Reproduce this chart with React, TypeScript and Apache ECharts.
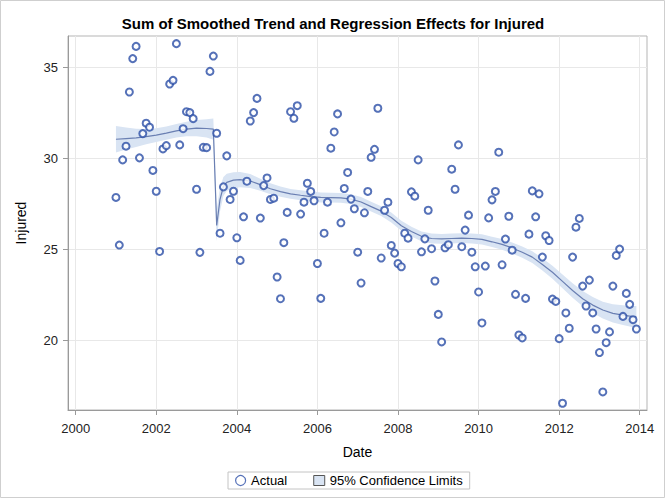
import { useEffect, useRef } from 'react';
import * as echarts from 'echarts';

// Monthly observations, Jan 2001 .. Dec 2013
const START_YEAR = 2001;
const actual = [
  27.85, 25.24, 29.91, 30.66, 33.63, 35.46, 36.13, 30.02, 31.35, 31.92, 31.7, 29.33,
  28.19, 24.89, 30.51, 30.69, 34.07, 34.27, 36.28, 30.73, 31.62, 32.55, 32.5, 32.17,
  28.3, 24.84, 30.6, 30.58, 34.76, 35.6, 31.37, 25.89, 28.43, 30.13, 27.74, 28.19,
  25.64, 24.4, 26.79, 28.74, 32.04, 32.5, 33.28, 26.72, 28.5, 28.92, 27.74, 27.81,
  23.49, 22.3, 25.37, 27.03, 32.55, 32.19, 32.88, 26.94, 27.59, 28.63, 28.18, 27.67,
  24.23, 22.32, 25.89, 27.59, 30.55, 31.44, 32.43, 26.46, 28.34, 29.22, 27.76, 27.23,
  24.85, 23.16, 27.01, 28.18, 30.05, 30.49, 32.74, 24.53, 27.15, 27.59, 25.22, 24.8,
  24.23, 24.05, 25.89, 25.62, 28.16, 27.92, 29.91, 24.87, 25.58, 27.15, 25.04, 23.27,
  21.44, 19.93, 25.09, 25.26, 29.4, 28.3, 30.73, 25.15, 26.06, 26.88, 24.85, 24.05,
  22.67, 20.97, 24.09, 26.73, 27.72, 28.18, 30.33, 24.16, 25.57, 26.82, 24.96, 22.54,
  20.31, 20.15, 22.32, 25.84, 28.21, 26.79, 28.05, 24.58, 25.75, 25.49, 22.28, 22.15,
  20.11, 16.57, 21.52, 20.68, 24.58, 26.22, 26.7, 22.99, 21.9, 23.32, 21.52, 20.64,
  19.35, 17.19, 19.89, 20.48, 22.99, 24.67, 25.02, 21.33, 22.59, 21.99, 21.15, 20.64,
];

// Smoothed trend + regression effects, read at these month offsets
const trendMonth = [
  0, 3, 6, 9, 12, 15, 18, 21, 24, 27, 29, 30, 31, 32, 33, 35, 37, 40, 43, 46, 49, 52,
  55, 58, 61, 64, 67, 70, 73, 76, 79, 82, 85, 88, 91, 94, 97, 100, 103, 106, 109, 112,
  115, 118, 121, 124, 127, 130, 133, 136, 139, 142, 145, 148, 151, 154, 155,
];
const trendValue = [
  31.04, 31.08, 31.12, 31.18, 31.27, 31.38, 31.5, 31.6, 31.65, 31.63, 31.6, 26.32, 27.75,
  28.45, 28.68, 28.8, 28.83, 28.75, 28.55, 28.33, 28.17, 28.05, 27.97, 27.9, 27.85, 27.84,
  27.83, 27.76, 27.6, 27.35, 27.1, 26.75, 26.3, 25.98, 25.72, 25.6, 25.58, 25.6, 25.62,
  25.6, 25.55, 25.42, 25.28, 25.08, 24.85, 24.58, 24.18, 23.75, 23.25, 22.75, 22.3, 21.95,
  21.68, 21.5, 21.4, 21.32, 21.3,
];
const lowerCL = [
  30.31, 30.48, 30.62, 30.76, 30.89, 31.02, 31.13, 31.2, 31.21, 31.13, 31.02, 25.47, 27.1,
  27.93, 28.21, 28.37, 28.41, 28.37, 28.22, 28.03, 27.89, 27.78, 27.7, 27.63, 27.58, 27.57,
  27.56, 27.49, 27.33, 27.08, 26.83, 26.48, 26.03, 25.71, 25.45, 25.33, 25.31, 25.33, 25.35,
  25.33, 25.27, 25.14, 24.99, 24.78, 24.54, 24.26, 23.84, 23.39, 22.87, 22.35, 21.88, 21.51,
  21.22, 21.0, 20.86, 20.74, 20.7,
];
const upperCL = [
  31.77, 31.68, 31.62, 31.6, 31.65, 31.74, 31.87, 32.0, 32.09, 32.13, 32.18, 27.17, 28.4,
  28.97, 29.15, 29.23, 29.25, 29.13, 28.88, 28.63, 28.45, 28.32, 28.24, 28.17, 28.12, 28.11,
  28.1, 28.03, 27.87, 27.62, 27.37, 27.02, 26.57, 26.25, 25.99, 25.87, 25.85, 25.87, 25.89,
  25.87, 25.83, 25.7, 25.57, 25.38, 25.16, 24.9, 24.52, 24.11, 23.63, 23.15, 22.72, 22.39,
  22.14, 22.0, 21.94, 21.9, 21.9,
];

const xTicks = [2000, 2002, 2004, 2006, 2008, 2010, 2012, 2014];
const yTicks = [20, 25, 30, 35];

const FONT = 'Liberation Sans';
const MARKER = '#2B4EA6';
const FIT = '#6A7FB2';
const BAND = '#D9E4F3';

const toYear = (m: number) => START_YEAR + m / 12;

export default function App() {
  const ref = useRef<HTMLDivElement | null>(null);

  useEffect(() => {
    if (!ref.current) return;
    const chart = echarts.init(ref.current, undefined, { renderer: 'svg' });

    const points = actual.map((v, i) => [toYear(i), v]);
    const trend = trendMonth.map((m, i) => [toYear(m), trendValue[i]]);

    chart.setOption({
      animation: false,
      textStyle: { fontFamily: FONT },
      title: {
        text: 'Sum of Smoothed Trend and Regression Effects for Injured',
        left: 'center',
        top: 11,
        textStyle: { fontFamily: FONT, fontSize: 15, fontWeight: 'bold', color: '#000' },
      },
      graphic: [
        {
          type: 'rect',
          shape: { x: 0.5, y: 0.5, width: 664, height: 497 },
          style: { fill: 'none', stroke: '#cfcfcf', lineWidth: 1 },
          silent: true,
        },
      ],
      grid: {
        left: 68,
        right: 19,
        top: 36,
        bottom: 90,
        show: true,
        borderColor: '#b5b5b5',
        borderWidth: 1,
      },
      legend: {
        top: 472,
        left: 228,
        padding: [2, 7],
        borderColor: '#c4c4c4',
        borderWidth: 1,
        itemGap: 26,
        itemWidth: 11,
        itemHeight: 10,
        textStyle: { fontFamily: FONT, fontSize: 13, color: '#000' },
        data: [
          {
            name: 'Actual',
            icon: 'circle',
            itemStyle: { color: '#fff', borderColor: MARKER, borderWidth: 1.2 },
          },
          {
            name: '95% Confidence Limits',
            icon: 'rect',
            itemStyle: { color: BAND, borderColor: '#555', borderWidth: 1 },
          },
        ],
      },
      xAxis: {
        type: 'value',
        min: 1999.81,
        max: 2014.18,
        name: 'Date',
        nameLocation: 'middle',
        nameGap: 35,
        nameTextStyle: { fontFamily: FONT, fontSize: 14, color: '#000' },
        axisLine: { show: true, lineStyle: { color: '#9a9a9a' } },
        axisTick: { show: true, length: 5, customValues: xTicks, lineStyle: { color: '#9a9a9a' } },
        axisLabel: {
          customValues: xTicks,
          margin: 12,
          fontSize: 13,
          fontFamily: FONT,
          color: '#222',
          formatter: (v: number) => String(v),
        },
        splitLine: { show: true, lineStyle: { color: '#e8e8e8' } },
      },
      yAxis: {
        type: 'value',
        min: 16.2,
        max: 36.7,
        name: 'Injured',
        nameLocation: 'middle',
        nameRotate: 90,
        nameGap: 40,
        nameTextStyle: { fontFamily: FONT, fontSize: 14, color: '#000' },
        axisLine: { show: true, lineStyle: { color: '#9a9a9a' } },
        axisTick: { show: true, length: 5, customValues: yTicks, lineStyle: { color: '#9a9a9a' } },
        axisLabel: {
          customValues: yTicks,
          margin: 10,
          fontSize: 13,
          fontFamily: FONT,
          color: '#222',
          formatter: (v: number) => String(v),
        },
        splitLine: { show: true, lineStyle: { color: '#e8e8e8' } },
      },
      series: [
        {
          name: '95% Confidence Limits',
          type: 'custom',
          silent: true,
          z: 1,
          data: [[toYear(trendMonth[0]), trendValue[0]]],
          itemStyle: { color: BAND },
          renderItem: (
            params: { dataIndex: number },
            api: { coord: (pt: [number, number]) => [number, number] },
          ) => {
            if (params.dataIndex !== 0) return null;
            const upper = trendMonth.map((m, i) => api.coord([toYear(m), upperCL[i]]));
            const lower = trendMonth
              .map((m, i) => api.coord([toYear(m), lowerCL[i]]))
              .reverse();
            return {
              type: 'polygon',
              shape: { points: [...upper, ...lower] },
              style: { fill: BAND, stroke: 'none' },
            };
          },
        },
        {
          name: 'Trend',
          type: 'line',
          data: trend,
          showSymbol: false,
          symbol: 'none',
          z: 2,
          lineStyle: { color: FIT, width: 1.2 },
        },
        {
          name: 'Actual',
          type: 'scatter',
          data: points,
          symbol: 'emptyCircle',
          symbolSize: 7,
          z: 3,
          itemStyle: { color: MARKER, borderColor: MARKER, borderWidth: 1.1 },
        },
      ],
    });

    return () => {
      chart.dispose();
    };
  }, []);

  return (
    <div
      ref={ref}
      style={{ position: 'absolute', left: 0, top: 0, width: 666, height: 500, background: '#fff' }}
    />
  );
}
